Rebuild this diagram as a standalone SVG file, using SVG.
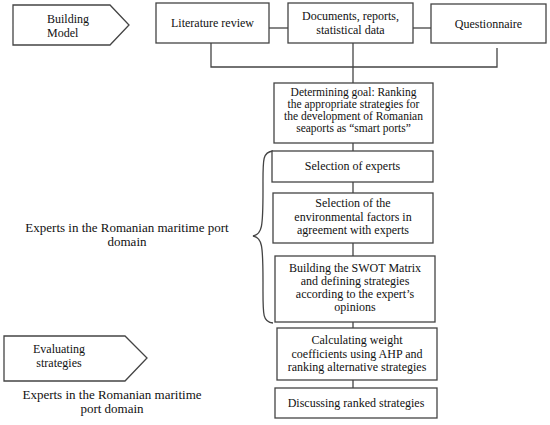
<svg xmlns="http://www.w3.org/2000/svg" width="550" height="425" viewBox="0 0 550 425">
<style>
.box{fill:#fff;stroke:#444;stroke-width:1.3}
.ln{fill:none;stroke:#444;stroke-width:1.3}
text{font-family:"Liberation Serif","Times New Roman",serif;fill:#111}
.t{font-size:12px;text-anchor:middle}
.ts{font-size:11.5px;text-anchor:middle}
.tl{font-size:12px}
.big{font-size:13px;text-anchor:middle}
</style>
<rect width="550" height="425" fill="#fff"/>
<g id="connectors">
<line class="ln" x1="269" y1="28" x2="288" y2="28"/>
<line class="ln" x1="413" y1="28" x2="431" y2="28"/>
<polyline class="ln" points="211,43 211,67 497,67 497,48"/>
<line class="ln" x1="353" y1="43" x2="353" y2="83"/>
<line class="ln" x1="353" y1="143" x2="353" y2="151"/>
<line class="ln" x1="353" y1="182" x2="353" y2="193"/>
<line class="ln" x1="353" y1="243" x2="353" y2="256"/>
<line class="ln" x1="353" y1="322" x2="353" y2="328"/>
<line class="ln" x1="353" y1="380" x2="353" y2="388"/>
<path id="brace" class="ln" d="M273,151 C262,152 263,160 263,190 C263,228 262,234 253,236 C262,238 263,244 263,282 C263,314 262,322 273,323"/>
</g>
<g id="building-model">
<polygon class="box" points="13,5 110,5 129,25 110,45 13,45"/>
<text class="tl" x="47" y="23">Building</text>
<text class="tl" x="47" y="37">Model</text>
</g>
<g id="literature-review">
<rect class="box" x="156" y="3" width="113" height="40"/>
<text class="t" x="212.5" y="27">Literature review</text>
</g>
<g id="documents">
<rect class="box" x="288" y="3" width="125" height="40"/>
<text class="t" x="350.5" y="20">Documents, reports,</text>
<text class="t" x="350.5" y="34">statistical data</text>
</g>
<g id="questionnaire">
<rect class="box" x="431" y="4" width="115" height="39"/>
<text class="t" x="488.5" y="28">Questionnaire</text>
</g>
<g id="determining-goal">
<rect class="box" x="274" y="83" width="159" height="60"/>
<text class="ts" x="353.5" y="95.5">Determining goal: Ranking</text>
<text class="ts" x="353.5" y="107.8">the appropriate strategies for</text>
<text class="ts" x="353.5" y="120.1">the development of Romanian</text>
<text class="ts" x="353.5" y="132.4">seaports as “smart ports”</text>
</g>
<g id="selection-experts">
<rect class="box" x="272" y="151" width="161" height="31"/>
<text class="t" x="352.5" y="170">Selection of experts</text>
</g>
<g id="selection-factors">
<rect class="box" x="273" y="193" width="160" height="50"/>
<text class="t" x="353" y="207">Selection of the</text>
<text class="t" x="353" y="220.5">environmental factors in</text>
<text class="t" x="353" y="234">agreement with experts</text>
</g>
<g id="swot">
<rect class="box" x="275" y="256" width="160" height="66"/>
<text class="t" x="355" y="271.5">Building the SWOT Matrix</text>
<text class="t" x="355" y="284.5">and defining strategies</text>
<text class="t" x="355" y="297.5">according to the expert’s</text>
<text class="t" x="355" y="310.5">opinions</text>
</g>
<g id="calculating">
<rect class="box" x="277" y="328" width="160" height="52"/>
<text class="t" x="357" y="344">Calculating weight</text>
<text class="t" x="357" y="357.5">coefficients using AHP and</text>
<text class="t" x="357" y="371">ranking alternative strategies</text>
</g>
<g id="discussing">
<rect class="box" x="275" y="388" width="162" height="30"/>
<text class="t" x="356" y="407">Discussing ranked strategies</text>
</g>
<g id="evaluating">
<polygon class="box" points="4,336 125,336 147,358 125,381 4,381"/>
<text class="t" x="59" y="353">Evaluating</text>
<text class="t" x="59" y="366.5">strategies</text>
</g>
<g id="experts-label-1">
<text class="big" x="127" y="232">Experts in the Romanian maritime port</text>
<text class="big" x="127" y="246">domain</text>
</g>
<g id="experts-label-2">
<text class="big" x="112" y="399">Experts in the Romanian maritime</text>
<text class="big" x="112" y="413">port domain</text>
</g>
</svg>
